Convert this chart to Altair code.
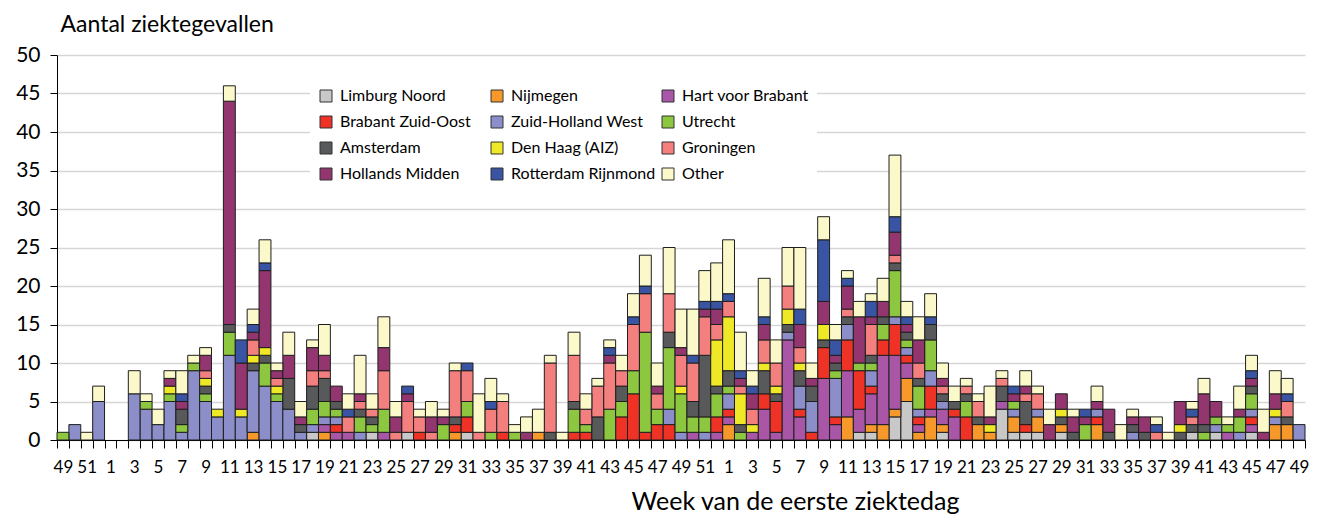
import altair as alt
import pandas as pd

# week labels: 4 weeks of year A, 52 weeks of year B, 49 weeks of year C
weeks = [49, 50, 51, 52] + list(range(1, 53)) + list(range(1, 50))

regions = ["Limburg Noord", "Nijmegen", "Hart voor Brabant",
           "Brabant Zuid-Oost", "Zuid-Holland West", "Utrecht",
           "Amsterdam", "Den Haag (AIZ)", "Groningen",
           "Hollands Midden", "Rotterdam Rijnmond", "Other"]
colors = ["#c8c8c8", "#f7992a", "#a956a6", "#ee3226", "#8b8ec8", "#8dc63f",
          "#58595b", "#efe827", "#f47f7f", "#933670", "#3a54a4", "#fbf8c9"]

limburg_noord = [0,0,0,0,0,0,0,0,0,0, 0,0,0,0,0,0,0,0,0,0, 0,1,0,0,0,0,1,0,0,1,
                 0,0,0,0,1,0,0,0,0,0, 0,0,0,0,0,0,0,0,0,0, 0,0,0,0,0,0,0,0,0,0,
                 0,0,0,0,0,0,0,1,1,0, 3,5,0,0,1,0,0,0,0,4, 1,1,1,0,1,0,0,0,0,0,
                 0,0,0,0,0,1,0,1,0,0, 1,0,0,0,0]
nijmegen = [0,0,0,0,0,0,0,0,0,0, 0,0,0,0,0,0,1,0,0,0, 0,0,1,0,0,0,0,0,0,0,
            0,0,0,1,0,0,0,0,0,0, 1,0,0,0,0,0,0,0,0,0, 0,0,0,0,0,0,2,0,0,0,
            0,0,0,0,0,0,3,0,1,2, 1,3,1,3,1,0,0,2,1,0, 2,0,2,0,1,0,0,2,0,0,
            0,0,0,0,0,0,0,0,0,0, 0,0,2,2,0]
hart_voor_brabant = [0,0,0,0,0,0,0,0,0,0, 0,0,0,0,0,0,0,0,0,0, 0,0,1,1,1,0,0,1,0,0,
                     0,0,0,0,0,0,0,0,0,0, 0,0,0,0,0,0,0,0,0,0, 0,0,0,1,0,1,1,0,1,4,
                     1,13,3,0,8,2,6,3,4,9, 7,2,1,1,2,3,0,0,0,1, 0,0,0,0,0,0,0,0,0,0,
                     0,0,0,0,0,0,0,0,1,0, 1,0,0,0,0]
brabant_zuid_oost = [0,0,0,0,0,0,0,0,0,0, 0,0,0,0,0,0,0,0,0,0, 0,0,0,1,0,0,0,0,0,0,
                     1,0,0,1,2,0,0,1,0,0, 0,0,0,1,1,0,0,3,6,1, 2,2,0,0,0,2,1,0,0,2,
                     4,0,1,1,4,1,4,5,1,2, 4,1,1,3,0,1,3,0,0,0, 0,1,0,0,0,0,0,1,0,0,
                     0,0,0,0,0,0,0,0,0,0, 1,0,0,0,0]
zuid_holland_west = [0,2,0,5,0,0,6,4,2,5, 1,9,5,3,11,3,8,7,5,4, 1,1,1,1,0,1,0,0,0,0,
                     0,0,0,0,0,0,0,0,0,0, 0,0,0,0,0,0,0,0,0,0, 0,2,1,0,1,0,2,0,0,0,
                     0,1,3,4,0,5,2,0,2,0, 1,1,1,2,1,0,0,0,0,0, 1,0,1,0,0,0,0,1,0,0,
                     1,0,0,0,0,0,0,1,0,1, 1,0,1,0,2]
utrecht = [1,0,0,0,0,0,0,1,0,1, 1,1,1,0,3,0,0,3,1,0, 0,2,2,1,0,2,1,3,0,0,
           0,0,2,0,2,0,1,0,1,0, 0,0,0,3,1,0,4,2,3,13, 2,8,5,2,2,3,1,1,0,0,
           0,0,0,0,0,1,0,1,1,2, 6,1,3,4,0,0,2,0,0,0, 1,0,0,0,0,0,2,0,0,0,
           0,0,0,0,0,0,1,1,1,2, 2,0,0,0,0]
amsterdam = [0,0,0,0,0,0,0,0,0,0, 2,0,1,0,1,0,1,1,0,4, 1,3,3,1,0,1,1,0,0,0,
             0,0,0,1,0,0,0,0,0,0, 0,1,0,1,0,3,0,2,0,0, 0,2,0,2,8,1,2,1,0,3,
             1,1,2,2,1,1,1,0,1,1, 1,1,1,2,1,1,1,1,0,2, 0,3,0,0,1,1,0,0,1,0,
             1,1,0,0,1,1,1,0,0,0, 1,0,0,1,0]
den_haag = [0,0,0,0,0,0,0,0,0,1, 0,0,1,1,0,1,1,1,1,0, 0,0,0,0,0,0,0,0,0,0,
            0,0,0,0,0,0,0,0,0,0, 0,0,0,0,0,0,0,0,0,0, 0,0,1,0,0,6,7,4,1,1,
            1,2,1,0,2,0,0,0,0,0, 0,0,0,0,0,0,0,0,1,0, 0,0,0,0,1,0,0,0,0,0,
            0,0,0,0,1,0,0,0,0,0, 0,0,1,0,0]
groningen = [0,0,0,0,0,0,0,0,0,0, 0,0,1,0,0,0,2,0,1,0, 0,2,1,0,2,1,1,5,1,4,
             2,1,0,6,4,1,3,4,0,0, 0,9,0,6,2,4,6,2,6,5, 2,5,4,5,5,2,2,1,2,3,
             3,3,2,0,0,0,1,0,4,0, 1,0,2,0,1,0,1,2,0,1, 0,1,2,0,0,0,0,0,0,0,
             0,0,1,0,0,1,0,0,0,0, 0,0,0,2,0]
hollands_midden = [0,0,0,0,0,0,0,0,0,1, 1,0,2,0,29,6,1,10,1,3, 1,3,2,2,0,1,0,3,2,1,
                   0,2,1,0,0,0,0,0,0,1, 0,0,0,0,0,0,1,0,0,0, 1,0,1,0,1,2,0,1,2,2,
                   0,0,3,1,3,1,3,6,1,2, 3,1,3,0,1,0,0,0,1,0, 1,1,0,2,2,2,1,1,3,0,
                   1,2,0,0,3,0,4,2,0,1, 1,1,2,0,0]
rotterdam_rijnmond = [0,0,0,0,0,0,0,0,0,0, 1,0,0,0,0,3,1,1,0,0, 0,0,0,0,1,0,0,0,0,1,
                      0,0,0,0,1,0,1,0,0,0, 0,0,0,0,0,0,1,0,1,1, 0,0,0,1,1,1,1,1,1,1,
                      0,0,2,0,8,2,1,0,2,0, 2,1,0,1,0,0,0,0,0,0, 1,0,0,0,0,0,1,0,0,0,
                      0,0,1,0,0,1,0,0,0,0, 1,0,0,1,0]
other = [0,0,1,2,0,0,3,1,2,1, 3,1,1,0,2,0,2,3,1,3, 2,1,4,0,2,5,2,4,2,0,
         1,2,1,1,0,5,3,1,1,2, 3,1,1,3,2,1,1,2,3,4, 3,6,5,6,4,5,7,5,2,5,
         3,5,8,2,3,2,1,2,1,3, 8,2,3,3,2,2,1,1,4,1, 0,2,1,2,0,1,0,2,0,2,
         1,0,1,1,0,1,2,0,1,3, 2,3,3,2,0]

series = [limburg_noord, nijmegen, hart_voor_brabant, brabant_zuid_oost,
          zuid_holland_west, utrecht, amsterdam, den_haag, groningen,
          hollands_midden, rotterdam_rijnmond, other]

rows = []
for rank, (name, vals) in enumerate(zip(regions, series)):
    for i, v in enumerate(vals):
        if v > 0:
            rows.append({"idx": i, "region": name, "count": v, "rank": rank})
df = pd.DataFrame(rows)

n = len(weeks)
tick_labels = [str(w) if i % 2 == 0 else "" for i, w in enumerate(weeks)]
label_expr = "[" + ",".join("'%s'" % t for t in tick_labels) + "][datum.value]"

FONT = "Lato"

chart = alt.Chart(df).mark_bar(stroke="#1e1e1e", strokeWidth=1).encode(
    x=alt.X("idx:O",
            scale=alt.Scale(domain=list(range(n)), paddingInner=0, paddingOuter=0),
            axis=alt.Axis(title="Week van de eerste ziektedag", labelExpr=label_expr,
                          labelAngle=0, labelOverlap=False, tickBand="extent",
                          tickSize=8, tickColor="#000000", domainColor="#000000",
                          labelFontSize=17, labelPadding=11, labelColor="#000000",
                          titleFontSize=25, titleFontWeight="normal", titleColor="#000000",
                          titleX=738, titleY=69, titleBaseline="alphabetic", titleAlign="center",
                          grid=False)),
    y=alt.Y("count:Q", stack="zero",
            scale=alt.Scale(domain=[0, 50], nice=False),
            axis=alt.Axis(title="Aantal ziektegevallen", values=list(range(0, 55, 5)),
                          titleAngle=0, titleX=3, titleY=-24, titleAlign="left",
                          titleBaseline="alphabetic", titleFontSize=23, titleFontWeight="normal",
                          titleColor="#000000", labelFontSize=21, labelPadding=10,
                          labelColor="#000000", tickSize=7, tickColor="#000000",
                          domainColor="#000000", gridColor="#d6d6d6", gridWidth=1.5)),
    color=alt.Color("region:N",
                    scale=alt.Scale(domain=regions, range=colors),
                    legend=alt.Legend(title=None, orient="none", legendX=253, legendY=25,
                                      direction="horizontal",
                                      columns=3, gridAlign="all", columnPadding=4,
                                      rowPadding=10, symbolType="square", symbolSize=144,
                                      symbolStrokeColor="#333333", symbolStrokeWidth=1,
                                      labelFontSize=16, labelColor="#000000", labelOffset=6,
                                      fillColor="#ffffff", padding=8)),
    order=alt.Order("rank:Q", sort="ascending"),
).properties(
    width=1248, height=385,
    padding={"left": 49, "top": 47, "right": 7, "bottom": 76},
    autosize=alt.AutoSizeParams(type="none"),
).configure(font=FONT).configure_view(strokeWidth=0)

chart.save("out.html", embed_options={"renderer": "svg", "actions": False})
